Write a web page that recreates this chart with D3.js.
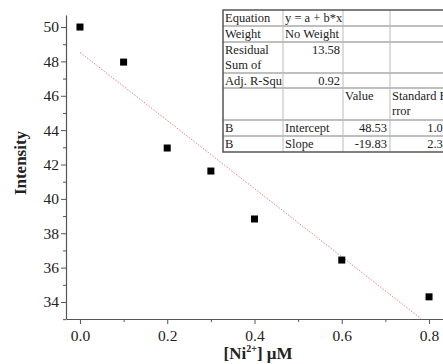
<!DOCTYPE html>
<html>
<head>
<meta charset="utf-8">
<script src="https://cdnjs.cloudflare.com/ajax/libs/d3/7.8.5/d3.min.js"></script>
<style>
  body { margin: 0; background: #fff; }
  svg { display: block; font-family: "Liberation Serif", "DejaVu Serif", serif; }
</style>
</head>
<body>
<div id="chart"></div>
<script>
// measured data
const conc = [0, 0.1, 0.2, 0.3, 0.4, 0.6, 0.8];
const intensity = [50.0, 47.96, 42.96, 41.62, 38.83, 36.44, 34.3];
const fitIntercept = 48.53;
const fitSlope = -19.83;
const xTicks = [0, 0.2, 0.4, 0.6, 0.8];
const yTicks = [34, 36, 38, 40, 42, 44, 46, 48, 50];

// fit report table (rows of cells)
const tableRows = [
  ['Equation', 'y = a + b*x', '', ''],
  ['Weight', 'No Weight', '', ''],
  [['Residual', 'Sum of'], '13.58', '', ''],
  ['Adj. R-Squ', '0.92', '', ''],
  ['', '', 'Value', ['Standard E', 'rror']],
  ['B', 'Intercept', '48.53', '1.05'],
  ['B', 'Slope', '-19.83', '2.34']
];
const rowHeights = [16, 16, 31, 15, 32, 16, 16];
const colWidths = [60, 60, 47, 62];
const rightAligned = [[2,1],[3,1],[5,2],[5,3],[6,2],[6,3]];

const W = 443, H = 364;
const svg = d3.select('#chart').append('svg').attr('width', W).attr('height', H);

const x = d3.scaleLinear().domain([-0.032, 0.832]).range([66, 443]);
const y = d3.scaleLinear().domain([33.01, 50.7]).range([319, 15]);

// y axis
const yAxis = svg.append('g').attr('transform', `translate(${x.range()[0]},0)`);
yAxis.call(d3.axisLeft(y).tickValues(yTicks).tickSize(5).tickSizeOuter(0).tickFormat(d3.format('d')));
yAxis.append('g').call(d3.axisLeft(y).tickValues(d3.range(33, 51, 1).filter(v => v % 2 === 1))
  .tickSize(3).tickSizeOuter(0).tickFormat(''))
  .select('.domain').remove();

// x axis
const xAxis = svg.append('g').attr('transform', `translate(0,${y.range()[0]})`);
xAxis.call(d3.axisBottom(x).tickValues(xTicks).tickSize(5).tickSizeOuter(0).tickFormat(d3.format('.1f')));
xAxis.append('g').call(d3.axisBottom(x).tickValues([0.1, 0.3, 0.5, 0.7])
  .tickSize(3).tickSizeOuter(0).tickFormat(''))
  .select('.domain').remove();

svg.selectAll('.domain').attr('stroke', '#555').attr('stroke-width', 1.2);
svg.selectAll('.tick line').attr('stroke', '#555');
svg.selectAll('.tick text')
  .style('font-family', '"Liberation Serif", serif')
  .style('font-size', '15.5px')
  .attr('fill', '#222');
yAxis.selectAll('.tick text').attr('x', -7);
xAxis.selectAll('.tick text').attr('y', 11);

// fitted line, clipped to the bottom of the axis
const xEnd = (y.domain()[0] - fitIntercept) / fitSlope;
svg.append('line')
  .attr('x1', x(0)).attr('y1', y(fitIntercept))
  .attr('x2', x(xEnd)).attr('y2', y(fitIntercept + fitSlope * xEnd))
  .attr('stroke', '#e88080')
  .attr('stroke-width', 1)
  .attr('stroke-dasharray', '1.5,1.5');

// points
const ms = 7;
svg.selectAll('rect.pt')
  .data(conc.map((c, i) => ({ c, v: intensity[i] })))
  .enter().append('rect')
  .attr('class', 'pt')
  .attr('x', d => x(d.c) - ms / 2)
  .attr('y', d => y(d.v) - ms / 2)
  .attr('width', ms).attr('height', ms)
  .attr('fill', '#000');

// axis titles
svg.append('text')
  .attr('transform', 'translate(26,163) rotate(-90)')
  .attr('text-anchor', 'middle')
  .style('font-size', '17px').style('font-weight', 'bold')
  .attr('fill', '#222')
  .text('Intensity');

const xl = svg.append('text')
  .attr('x', 258).attr('y', 359)
  .attr('text-anchor', 'middle')
  .style('font-size', '17px').style('font-weight', 'bold')
  .attr('fill', '#222');
xl.append('tspan').text('[Ni');
xl.append('tspan').attr('dy', -7).style('font-size', '10px').text('2+');
xl.append('tspan').attr('dy', 7).text('] \u03bcM');

// table
const tx0 = 223, ty0 = 10;
const colX = [tx0];
colWidths.forEach(w => colX.push(colX[colX.length - 1] + w));
const rowY = [ty0];
rowHeights.forEach(h => rowY.push(rowY[rowY.length - 1] + h));
const tW = colX[colX.length - 1] - tx0, tH = rowY[rowY.length - 1] - ty0;

const tbl = svg.append('g');
tbl.append('rect').attr('x', tx0).attr('y', ty0).attr('width', tW).attr('height', tH)
  .attr('fill', '#fff');
rowY.slice(1, -1).forEach(yy => {
  tbl.append('line').attr('x1', tx0).attr('x2', tx0 + tW).attr('y1', yy).attr('y2', yy)
    .attr('stroke', '#aaa').attr('stroke-width', 1.5);
});
colX.slice(1, -1).forEach(xx => {
  tbl.append('line').attr('x1', xx).attr('x2', xx).attr('y1', ty0).attr('y2', ty0 + tH)
    .attr('stroke', '#bbb').attr('stroke-width', 1);
});
tbl.append('rect').attr('x', tx0).attr('y', ty0).attr('width', tW).attr('height', tH)
  .attr('fill', 'none').attr('stroke', '#555').attr('stroke-width', 1.5);

tableRows.forEach((row, r) => {
  row.forEach((cell, c) => {
    if (cell === '') return;
    const right = rightAligned.some(([rr, cc]) => rr === r && cc === c);
    const lines = Array.isArray(cell) ? cell : [cell];
    const t = tbl.append('text')
      .attr('x', right ? colX[c + 1] - 3 : colX[c] + 2)
      .attr('y', rowY[r] + 12)
      .attr('text-anchor', right ? 'end' : 'start')
      .style('font-size', '12.5px')
      .attr('fill', '#222');
    lines.forEach((l, i) => {
      t.append('tspan').attr('x', right ? colX[c + 1] - 3 : colX[c] + 2)
        .attr('dy', i === 0 ? 0 : 15).text(l);
    });
  });
});
</script>
</body>
</html>
